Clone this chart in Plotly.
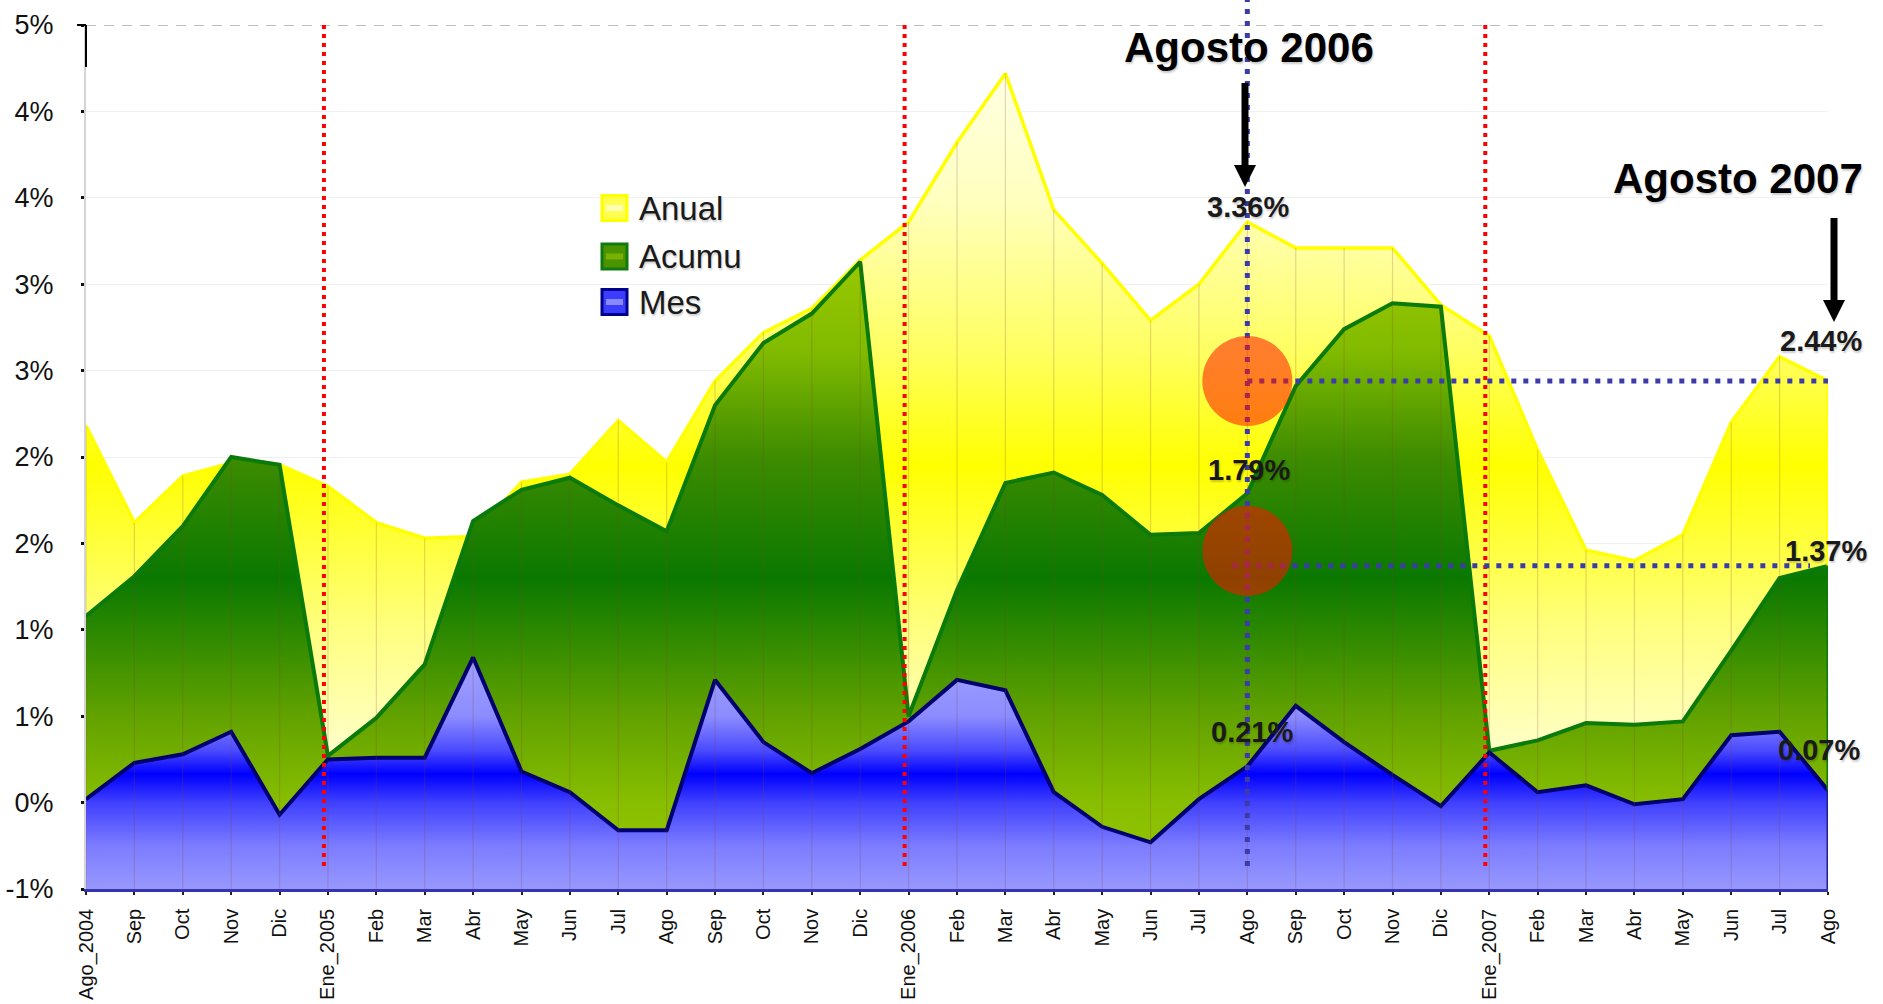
import plotly.graph_objects as go

# ---------------- data ----------------
categories = ["Ago_2004", "Sep", "Oct", "Nov", "Dic", "Ene_2005", "Feb", "Mar", "Abr", "May", "Jun", "Jul", "Ago",
              "Sep", "Oct", "Nov", "Dic", "Ene_2006", "Feb", "Mar", "Abr", "May", "Jun", "Jul", "Ago",
              "Sep", "Oct", "Nov", "Dic", "Ene_2007", "Feb", "Mar", "Abr", "May", "Jun", "Jul", "Ago"]
anual = [2.18, 1.62, 1.89, 1.965, 1.955, 1.83, 1.62, 1.53, 1.54, 1.855, 1.90, 2.21, 1.97,
         2.44, 2.72, 2.86, 3.14, 3.36, 3.82, 4.22, 3.43, 3.12, 2.79, 3.00, 3.36,
         3.21, 3.21, 3.21, 2.88, 2.70, 2.04, 1.46, 1.40, 1.55, 2.20, 2.58, 2.44]
acumu = [1.08, 1.31, 1.60, 2.00, 1.955, 0.27, 0.49, 0.80, 1.63, 1.81, 1.88, 1.72, 1.57,
         2.30, 2.66, 2.83, 3.13, 0.50, 1.23, 1.85, 1.91, 1.78, 1.55, 1.56, 1.79,
         2.41, 2.74, 2.89, 2.87, 0.30, 0.36, 0.46, 0.45, 0.47, 0.88, 1.30, 1.37]
mes = [0.02, 0.23, 0.28, 0.41, -0.07, 0.25, 0.26, 0.26, 0.84, 0.18, 0.06, -0.16, -0.16,
       0.71, 0.35, 0.17, 0.31, 0.47, 0.71, 0.65, 0.06, -0.14, -0.23, 0.02, 0.21,
       0.56, 0.35, 0.16, -0.02, 0.29, 0.06, 0.10, -0.01, 0.02, 0.39, 0.41, 0.07]
series_names = ["Anual", "Acumu", "Mes"]
ytick_vals = [-0.5, 0, 0.5, 1, 1.5, 2, 2.5, 3, 3.5, 4, 4.5]
ytick_text = ["-1%", "0%", "1%", "1%", "2%", "2%", "3%", "3%", "4%", "4%", "5%"]
year_starts = [5, 17, 29]      # Ene_2005, Ene_2006, Ene_2007
focus_idx = 24                 # Ago 2006
last_idx = 36                  # Ago 2007
callouts = ["Agosto 2006", "Agosto 2007"]

# ---------------- geometry ----------------
W, H = 1883, 1004
PL, PR, PT, PB = 86, 1828, 25, 889
Y0, Y1 = -0.5, 4.5
xs = list(range(len(categories)))
DX = (len(categories) - 1) / (PR - PL)
DY = (Y1 - Y0) / (PB - PT)


def px(X):
    return (X - PL) / (PR - PL)


def py(Y):
    return (PB - Y) / (PB - PT)


def grad(stops):
    return dict(type="vertical", start=Y0, stop=Y1,
                colorscale=[[(v - Y0) / (Y1 - Y0), c] for v, c in stops])


yellow_stops = [(-0.5, "#FFFFE0"), (0.3, "#FFFFC8"), (1.0, "#FFFF80"), (1.95, "#FFFF00"),
                (2.6, "#FFFF60"), (3.5, "#FFFFC0"), (4.5, "#FFFFF0")]
green_stops = [(-0.5, "#98C800"), (0.0, "#88BE00"), (0.5, "#62A200"), (1.3, "#0A7800"),
               (2.0, "#3E8C00"), (2.6, "#80BA00"), (3.2, "#9CCA00"), (4.5, "#A8D000")]
blue_stops = [(-0.5, "#9898FF"), (-0.25, "#7C7CFF"), (0.0, "#4040FF"), (0.165, "#0000FF"),
              (0.3, "#4A4AFF"), (0.5, "#8C8CFF"), (0.9, "#A4A4FF"), (4.5, "#C0C0FF")]

series = [
    (series_names[0], anual, "#FFFF00", 3.5, yellow_stops),
    (series_names[1], acumu, "#0A7A0A", 4, green_stops),
    (series_names[2], mes, "#000070", 4, blue_stops),
]

fig = go.Figure()
base = [Y0] * len(xs)
for name, vals, lc, lw, stops in series:
    fig.add_trace(go.Scatter(x=xs, y=base, mode="lines", line=dict(width=0),
                             hoverinfo="skip", showlegend=False))
    fig.add_trace(go.Scatter(x=xs, y=vals, mode="lines", name=name, fill="tonexty",
                             fillgradient=grad(stops),
                             line=dict(color=lc, width=lw), showlegend=False))

shapes = []
# faint drop lines at each category
for i in xs:
    shapes.append(dict(type="line", xref="x", yref="y", x0=i, x1=i, y0=Y0, y1=anual[i],
                       line=dict(color="rgba(130,70,50,0.22)", width=1.2), layer="above"))
# right edges of the filled areas
shapes.append(dict(type="line", xref="x", yref="y", x0=last_idx, x1=last_idx, y0=acumu[last_idx],
                   y1=anual[last_idx], line=dict(color="#FFFF00", width=3)))
shapes.append(dict(type="line", xref="x", yref="y", x0=last_idx, x1=last_idx, y0=mes[last_idx],
                   y1=acumu[last_idx], line=dict(color="#0A7A0A", width=3)))
shapes.append(dict(type="line", xref="x", yref="y", x0=last_idx, x1=last_idx, y0=Y0,
                   y1=mes[last_idx], line=dict(color="#202090", width=3)))
# top dashed gridline
shapes.append(dict(type="line", xref="paper", yref="y", x0=0, x1=px(1823), y0=Y1, y1=Y1,
                   line=dict(color="#BDBDBD", width=2, dash="10px,8px")))
# black top part of y axis
shapes.append(dict(type="line", xref="paper", yref="paper", x0=0, x1=0, y0=py(67), y1=1,
                   line=dict(color="black", width=2)))
shapes.append(dict(type="line", xref="paper", yref="paper", x0=px(77), x1=0, y0=1, y1=1,
                   line=dict(color="black", width=2)))
# red dotted year separators
for i in year_starts:
    shapes.append(dict(type="line", xref="x", yref="paper", x0=i - 4 * DX, x1=i - 4 * DX,
                       y0=py(866), y1=1, line=dict(color="#FF0000", width=4, dash="4px,5px")))
# blue dotted guide lines
dot = dict(color="#3C3CA8", width=5, dash="5px,7px")
shapes.append(dict(type="line", xref="x", yref="paper", x0=focus_idx, x1=focus_idx,
                   y0=py(866), y1=py(0), line=dot))
shapes.append(dict(type="line", xref="x", yref="y", x0=focus_idx, x1=last_idx + 5 * DX,
                   y0=anual[last_idx], y1=anual[last_idx], line=dot))
shapes.append(dict(type="line", xref="x", yref="y", x0=focus_idx - 15 * DX, x1=last_idx - 18 * DX,
                   y0=acumu[last_idx], y1=acumu[last_idx], line=dot))
# highlight circles (semi-transparent red-orange)
R = 45
for cy in (anual[last_idx], acumu[last_idx] + 15 * DY):
    shapes.append(dict(type="circle", xref="x", yref="y",
                       x0=focus_idx - R * DX, x1=focus_idx + R * DX,
                       y0=cy - R * DY, y1=cy + R * DY,
                       fillcolor="rgba(255,20,0,0.55)", line=dict(width=0), layer="above"))
# arrows
for ax_, top, head_top, tip in [(1245, 83, 165, 187), (1834, 218, 300, 322)]:
    shapes.append(dict(type="line", xref="paper", yref="paper", x0=px(ax_), x1=px(ax_),
                       y0=py(top), y1=py(head_top + 3), line=dict(color="black", width=7)))
    shapes.append(dict(type="path", xref="paper", yref="paper",
                       path=f"M{px(ax_ - 11)},{py(head_top)} L{px(ax_ + 11)},{py(head_top)} "
                            f"L{px(ax_)},{py(tip)} Z",
                       fillcolor="black", line=dict(width=0)))
# legend swatches
legend_rows = [208, 256.5, 302]
sw = [("#FFFF00", "#FFFF50", "#FFFFB8"), ("#107A10", "#4A9400", "#7AB000"), ("#00008A", "#3C3CFF", "#8888FF")]
for cy, (bc, fc, bandc) in zip(legend_rows, sw):
    shapes.append(dict(type="rect", xref="paper", yref="paper", x0=px(602), x1=px(627),
                       y0=py(cy + 12.5), y1=py(cy - 12.5), fillcolor=fc,
                       line=dict(color=bc, width=3)))
    shapes.append(dict(type="rect", xref="paper", yref="paper", x0=px(606), x1=px(623),
                       y0=py(cy + 3), y1=py(cy - 3), fillcolor=bandc, line=dict(width=0)))

ann = []
shadow = "1px 2px 2px rgba(0,0,0,0.2)"
for txt, cx, cy in [(callouts[0], 1249, 48), (callouts[1], 1738, 179)]:
    ann.append(dict(text=f"<b>{txt}</b>", xref="paper", yref="paper", x=px(cx), y=py(cy),
                    xanchor="center", yanchor="middle", showarrow=False,
                    font=dict(family="Liberation Sans, Arial, sans-serif", size=42, color="black",
                              shadow=shadow)))
# value labels
for vals, idx, xs_, ys_ in [(anual, focus_idx, 1, 15), (acumu, focus_idx, 2, 23), (mes, focus_idx, 5, 34),
                            (anual, last_idx, -7, 40), (acumu, last_idx, -2, 15), (mes, last_idx, -9, 41)]:
    ann.append(dict(text=f"<b>{vals[idx]:.2f}%</b>", xref="x", yref="y", x=idx, y=vals[idx],
                    xshift=xs_, yshift=ys_, xanchor="center", yanchor="middle", showarrow=False,
                    font=dict(family="Liberation Sans, Arial, sans-serif", size=29, color="#1A1A1A",
                              shadow=shadow)))
# legend labels
for name, cy in zip(series_names, legend_rows):
    ann.append(dict(text=name, xref="paper", yref="paper", x=px(637), y=py(cy),
                    xanchor="left", yanchor="middle", showarrow=False,
                    font=dict(family="Liberation Sans, Arial, sans-serif", size=33, color="#1A1A1A",
                              shadow=shadow)))

fig.update_layout(
    width=W, height=H,
    margin=dict(l=PL, r=W - PR, t=PT, b=H - PB, autoexpand=False),
    paper_bgcolor="white", plot_bgcolor="white",
    showlegend=False,
    shapes=shapes, annotations=ann,
    font=dict(family="Liberation Sans, Arial, sans-serif", color="black"),
)
fig.update_xaxes(range=[0, len(categories) - 1], tickmode="array", tickvals=xs, ticktext=categories,
                 tickangle=-90, showgrid=False, zeroline=False, automargin=False,
                 showline=True, linecolor="#3535B0", linewidth=2.5,
                 ticks="outside", ticklen=3, tickwidth=2, tickcolor="#222",
                 ticklabelstandoff=6,
                 tickfont=dict(family="Liberation Sans Narrow, Arial Narrow, Liberation Sans, sans-serif",
                               size=20, color="#111"))
fig.update_yaxes(range=[Y0, Y1], tickmode="array", tickvals=ytick_vals, ticktext=ytick_text,
                 showgrid=True, gridcolor="#F0F0F0", gridwidth=1, zeroline=False, automargin=False,
                 showline=True, linecolor="#D4D4D4", linewidth=2,
                 ticks="outside", ticklen=3, tickwidth=3, tickcolor="#111",
                 ticklabelstandoff=22,
                 tickfont=dict(family="Liberation Sans, Arial, sans-serif", size=27, color="#111"))

fig.write_html("out.html", config={"displayModeBar": False},
               post_script="document.body.style.margin='0px';document.body.style.overflow='hidden';")
